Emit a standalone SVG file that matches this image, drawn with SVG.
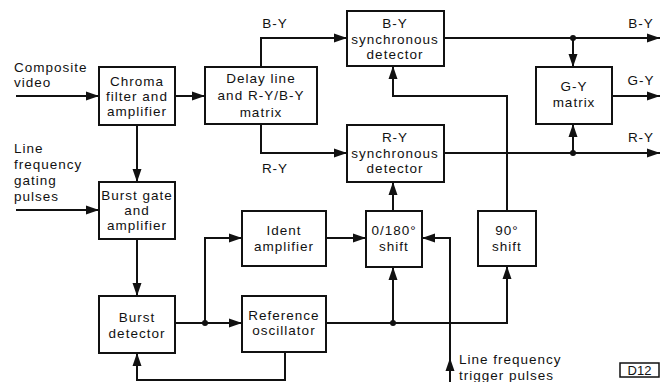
<svg xmlns="http://www.w3.org/2000/svg" width="671" height="382" viewBox="0 0 671 382">
<style>
.b{fill:#fff;stroke:#111;stroke-width:2}
.c{fill:none;stroke:#111;stroke-width:2;marker-end:url(#a)}
text{font-family:"Liberation Sans",Arial,sans-serif;font-size:13.5px;letter-spacing:1px;fill:#111;text-anchor:middle}
.l{text-anchor:start}
</style>
<defs>
<marker id="a" markerUnits="userSpaceOnUse" markerWidth="14" markerHeight="10" refX="13" refY="5" orient="auto">
<path d="M0,0.5 L13,5 L0,9.5 Z" fill="#111"/>
</marker>
</defs>
<rect width="671" height="382" fill="#fff"/>
<g id="connectors">
<path class="c" d="M16,96 H99"/>
<path class="c" d="M175,96 H205"/>
<path class="c" d="M137,125 V182"/>
<path class="c" d="M16,210 H99"/>
<path class="c" d="M137,239 V296"/>
<path class="c" d="M175,323 H242"/>
<path class="c" d="M205,323 V238 H242"/>
<path class="c" d="M326,238 H366"/>
<path class="c" d="M326,323 H507 V266"/>
<path class="c" d="M393,323 V267"/>
<path class="c" d="M393,211 V182"/>
<path class="c" d="M450,382 V238 H422"/>
<path class="c" d="M450,378 V358"/>
<path class="c" d="M261,67 V38 H347"/>
<path class="c" d="M261,124 V153 H347"/>
<path class="c" d="M507,211 V96 H393 V66"/>
<path class="c" d="M444,38 H660"/>
<path class="c" d="M573,38 V67"/>
<path class="c" d="M444,153 H660"/>
<path class="c" d="M573,153 V124"/>
<path class="c" d="M612,96 H660"/>
<path class="c" d="M285,352 V380 H137 V353"/>
<circle cx="205" cy="323" r="3" fill="#111"/>
<circle cx="393" cy="323" r="3" fill="#111"/>
<circle cx="573" cy="38" r="3" fill="#111"/>
<circle cx="573" cy="153" r="3" fill="#111"/>
</g>
<g id="chroma"><rect class="b" x="99" y="67" width="76" height="58"/><text x="137" y="86">Chroma</text><text x="137" y="101">filter and</text><text x="137" y="116">amplifier</text></g>
<g id="delay"><rect class="b" x="205" y="67" width="112" height="57"/><text x="261" y="83">Delay line</text><text x="261" y="100">and R-Y/B-Y</text><text x="261" y="117">matrix</text></g>
<g id="bysync"><rect class="b" x="347" y="11" width="97" height="55"/><text x="395" y="28">B-Y</text><text x="395" y="44">synchronous</text><text x="395" y="59">detector</text></g>
<g id="rysync"><rect class="b" x="347" y="125" width="97" height="57"/><text x="395" y="142">R-Y</text><text x="395" y="158">synchronous</text><text x="395" y="173">detector</text></g>
<g id="gy"><rect class="b" x="536" y="67" width="76" height="57"/><text x="574" y="91">G-Y</text><text x="574" y="107">matrix</text></g>
<g id="burstgate"><rect class="b" x="99" y="182" width="76" height="57"/><text x="137" y="200">Burst gate</text><text x="137" y="215">and</text><text x="137" y="230">amplifier</text></g>
<g id="burstdet"><rect class="b" x="99" y="296" width="76" height="57"/><text x="137" y="322">Burst</text><text x="137" y="338">detector</text></g>
<g id="ident"><rect class="b" x="242" y="211" width="84" height="55"/><text x="284" y="235">Ident</text><text x="284" y="251">amplifier</text></g>
<g id="refosc"><rect class="b" x="242" y="296" width="84" height="56"/><text x="284" y="320">Reference</text><text x="284" y="335">oscillator</text></g>
<g id="shift180"><rect class="b" x="366" y="211" width="56" height="56"/><text x="394" y="235">0/180°</text><text x="394" y="251">shift</text></g>
<g id="shift90"><rect class="b" x="478" y="211" width="58" height="55"/><text x="507" y="235">90°</text><text x="507" y="251">shift</text></g>
<g id="labels">
<text class="l" x="14" y="72">Composite</text><text class="l" x="14" y="87">video</text>
<text class="l" x="14" y="153">Line</text><text class="l" x="14" y="169">frequency</text><text class="l" x="14" y="185">gating</text><text class="l" x="14" y="201">pulses</text>
<text x="275" y="28">B-Y</text><text x="275" y="173">R-Y</text>
<text x="641" y="28">B-Y</text><text x="641" y="85">G-Y</text><text x="641" y="142">R-Y</text>
<text class="l" x="459" y="364">Line frequency</text><text class="l" x="459" y="380">trigger pulses</text>
</g>
<g id="d12"><rect x="620" y="363" width="39" height="14" fill="#fff" stroke="#111" stroke-width="1.5"/><text x="639.5" y="375" style="font-size:13px;letter-spacing:0">D12</text></g>
</svg>
